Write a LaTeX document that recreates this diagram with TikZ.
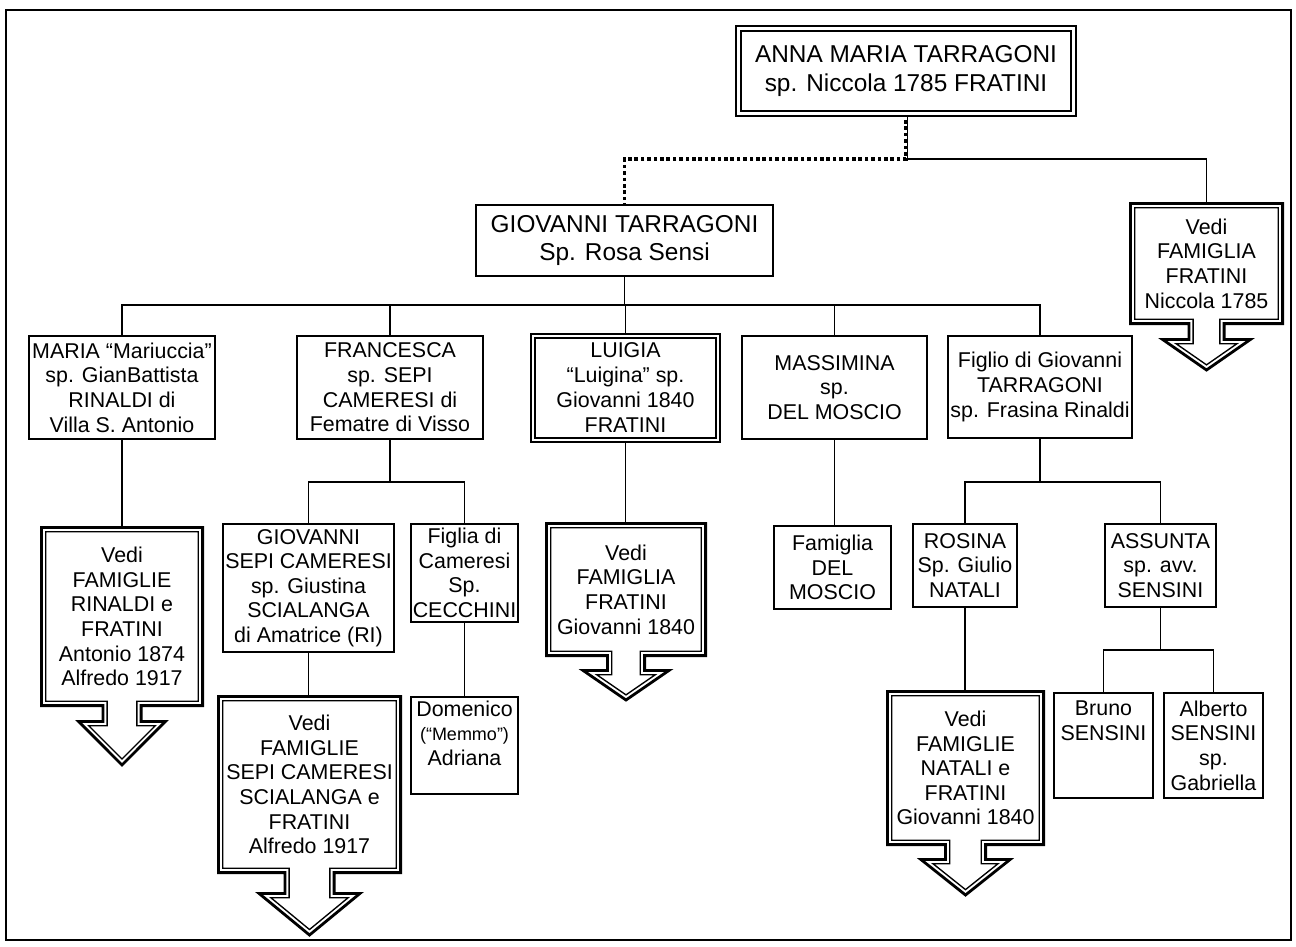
\documentclass[tikz,border=0pt]{standalone}
\usepackage{fontspec}
\setmainfont{Liberation Sans}
\usetikzlibrary{calc,backgrounds}

% Body node #1 gets a downward arrow outline (thick outer line, thin inner line):
% stem half-width #2, neck length #3, head half-width #4, head length #5
\newcommand\calloutdown[5]{%
  \begin{scope}
    \clip (#1.north west) -- (#1.north east) -- (#1.south east)
      -- ($(#1.south)+(#2,0)$) -- ($(#1.south)+(#2,#3)$) -- ($(#1.south)+(#4,#3)$)
      -- ($(#1.south)+(0,{#3+#5})$)
      -- ($(#1.south)+(-#4,#3)$) -- ($(#1.south)+(-#2,#3)$) -- ($(#1.south)+(-#2,0)$)
      -- (#1.south west) -- cycle;
    \draw[line width=9.8pt, line join=miter] (#1.north west) -- (#1.north east) -- (#1.south east)
      -- ($(#1.south)+(#2,0)$) -- ($(#1.south)+(#2,#3)$) -- ($(#1.south)+(#4,#3)$)
      -- ($(#1.south)+(0,{#3+#5})$)
      -- ($(#1.south)+(-#4,#3)$) -- ($(#1.south)+(-#2,#3)$) -- ($(#1.south)+(-#2,0)$)
      -- (#1.south west) -- cycle;
    \draw[white, line width=6.8pt, line join=miter] (#1.north west) -- (#1.north east) -- (#1.south east)
      -- ($(#1.south)+(#2,0)$) -- ($(#1.south)+(#2,#3)$) -- ($(#1.south)+(#4,#3)$)
      -- ($(#1.south)+(0,{#3+#5})$)
      -- ($(#1.south)+(-#4,#3)$) -- ($(#1.south)+(-#2,#3)$) -- ($(#1.south)+(-#2,0)$)
      -- (#1.south west) -- cycle;
  \end{scope}
  \draw[line width=2.8pt, line join=miter] (#1.north west) -- (#1.north east) -- (#1.south east)
    -- ($(#1.south)+(#2,0)$) -- ($(#1.south)+(#2,#3)$) -- ($(#1.south)+(#4,#3)$)
    -- ($(#1.south)+(0,{#3+#5})$)
    -- ($(#1.south)+(-#4,#3)$) -- ($(#1.south)+(-#2,#3)$) -- ($(#1.south)+(-#2,0)$)
    -- (#1.south west) -- cycle;}

\begin{document}
\begin{tikzpicture}[x=1pt,y=-1pt,
  every node/.style={inner sep=0pt, outer sep=0pt, align=center},
  sz/.style 2 args={minimum width=#1pt, minimum height=#2pt},
  person/.style={draw, line width=1.4pt, fill=white, font=\fontsize{21.4}{24.6}\selectfont},
  big/.style={draw, line width=1.4pt, fill=white, font=\fontsize{24.4}{28.5}\selectfont},
  vedi/.style={font=\fontsize{21.4}{24.6}\selectfont},
  dbl/.style={line width=2pt, double=white, double distance=2.6pt, line join=miter},
  link/.style={line width=1.4pt},
  dotlink/.style={line width=3.6pt, dash pattern=on 3.6pt off 2.8pt}]

\useasboundingbox (0,0) rectangle (1296,946);
\draw[line width=2pt] (6,10) rectangle (1291,940);

% generation 1 and 2
\node[big, dbl, sz={335}{85}] (anna) at (906,71) {ANNA MARIA TARRAGONI\\sp. Niccola 1785 FRATINI};
\node[big, sz={297}{71}] (giov) at (624.5,240.5) {GIOVANNI TARRAGONI\\Sp. Rosa Sensi};
\node[vedi, sz={152.2}{120.2}] (vnic) at (1206.5,263.5) {Vedi\\FAMIGLIA\\FRATINI\\Niccola 1785};

% children of Giovanni
\node[person, sz={186}{103}] (maria) at (122,387.5) {MARIA “Mariuccia”\\sp. GianBattista\\RINALDI di\\Villa S. Antonio};
\node[person, sz={186}{103}] (fran) at (390,387.5) {FRANCESCA\\sp. SEPI\\CAMERESI di\\Fematre di Visso};
\node[person, line width=1.8pt, sz={189.5}{108.5}, font=\fontsize{21.4}{25}\selectfont] (luigia) at (625.5,388) {LUIGIA\\“Luigina” sp.\\Giovanni 1840\\FRATINI};
\draw[line width=2.7pt] ([shift={(4.3,4.3)}]luigia.north west) rectangle ([shift={(-4.3,-4.3)}]luigia.south east);
\node[person, sz={185}{103}] (massi) at (834.5,387.5) {MASSIMINA\\sp.\\DEL MOSCIO};
\node[person, sz={184}{102}] (figlio) at (1040,387) {Figlio di Giovanni\\TARRAGONI\\sp. Frasina Rinaldi};

% next generation
\node[vedi, sz={161.2}{178.2}] (vmaria) at (122,616.5) {Vedi\\FAMIGLIE\\RINALDI e\\FRATINI\\Antonio 1874\\Alfredo 1917};
\node[person, sz={171}{128}] (gsepi) at (308.5,588) {GIOVANNI\\SEPI CAMERESI\\sp. Giustina\\SCIALANGA\\di Amatrice (RI)};
\node[person, sz={107}{98}] (figlia) at (464.5,573) {Figlia di\\Cameresi\\Sp.\\CECCHINI};
\node[vedi, sz={159.2}{132.2}] (vluigia) at (626,589.5) {Vedi\\FAMIGLIA\\FRATINI\\Giovanni 1840};
\node[person, sz={117}{83}] (famdm) at (832.5,567.5) {Famiglia\\DEL\\MOSCIO};
\node[person, sz={104}{83}] (rosina) at (965,565.5) {ROSINA\\Sp. Giulio\\NATALI};
\node[person, sz={111}{83}] (assunta) at (1160.5,565.5) {ASSUNTA\\sp. avv.\\SENSINI};

\node[vedi, sz={182.2}{176.2}] (vsepi) at (309.5,784.5) {Vedi\\FAMIGLIE\\SEPI CAMERESI\\SCIALANGA e\\FRATINI\\Alfredo 1917};
\node[person, sz={107}{97}] (dom) at (464.5,745.5) {Domenico\\{\fontsize{18}{20}\selectfont(“Memmo”)}\\Adriana\\\mbox{}};
\node[vedi, sz={156.2}{153.2}] (vnat) at (965.5,768) {Vedi\\FAMIGLIE\\NATALI e\\FRATINI\\Giovanni 1840};
\node[person, sz={99}{105}] (bruno) at (1103.5,745.5) {Bruno\\SENSINI\\\mbox{}\\\mbox{}};
\node[person, sz={99}{105}] (alberto) at (1213.5,745.5) {Alberto\\SENSINI\\sp.\\Gabriella};

% arrow outlines
\calloutdown{vnic}{17.6}{15.8}{44}{30.6}
\calloutdown{vmaria}{19.1}{15.8}{43.5}{43.6}
\calloutdown{vluigia}{18.6}{14.8}{43}{29.6}
\calloutdown{vsepi}{24.6}{20.8}{50.5}{41.6}
\calloutdown{vnat}{20.1}{14.8}{44.7}{35.6}

% connectors
\begin{pgfonlayer}{background}
  \coordinate (j0) at (906,159);
  \coordinate (bus1) at (0,305);
  \coordinate (bus2) at (0,482);
  \coordinate (bus4) at (0,650);
  \draw[link] ([xshift=1.5pt]anna.south) -- ([xshift=1.5pt]j0) -| (vnic.north);
  \draw[dotlink] (anna.south) -- (j0) -| (giov.north);
  \draw[link] (giov.south) -- (giov.south |- bus1);
  \draw[link] (maria.north) |- (bus1 -| figlio.north) -- (figlio.north);
  \draw[link] (fran.north) -- (fran.north |- bus1);
  \draw[link] (luigia.north) -- (luigia.north |- bus1);
  \draw[link] (massi.north) -- (massi.north |- bus1);

  \draw[link] (maria.south) -- (vmaria.north);
  \draw[link] (fran.south) -- (fran.south |- bus2);
  \draw[link] (gsepi.north) |- (bus2 -| figlia.north) -- (figlia.north);
  \draw[link] (gsepi.south) -- (gsepi.south |- vsepi.north);
  \draw[link] (figlia.south) -- (dom.north);
  \draw[link] (luigia.south) -- (luigia.south |- vluigia.north);
  \draw[link] (massi.south) -- (massi.south |- famdm.north);
  \draw[link] (figlio.south) -- (figlio.south |- bus2);
  \draw[link] (rosina.north) |- (bus2 -| assunta.north) -- (assunta.north);
  \draw[link] (rosina.south) -- (rosina.south |- vnat.north);
  \draw[link] (assunta.south) -- (assunta.south |- bus4);
  \draw[link] (bruno.north) |- (bus4 -| alberto.north) -- (alberto.north);
\end{pgfonlayer}
\end{tikzpicture}
\end{document}
